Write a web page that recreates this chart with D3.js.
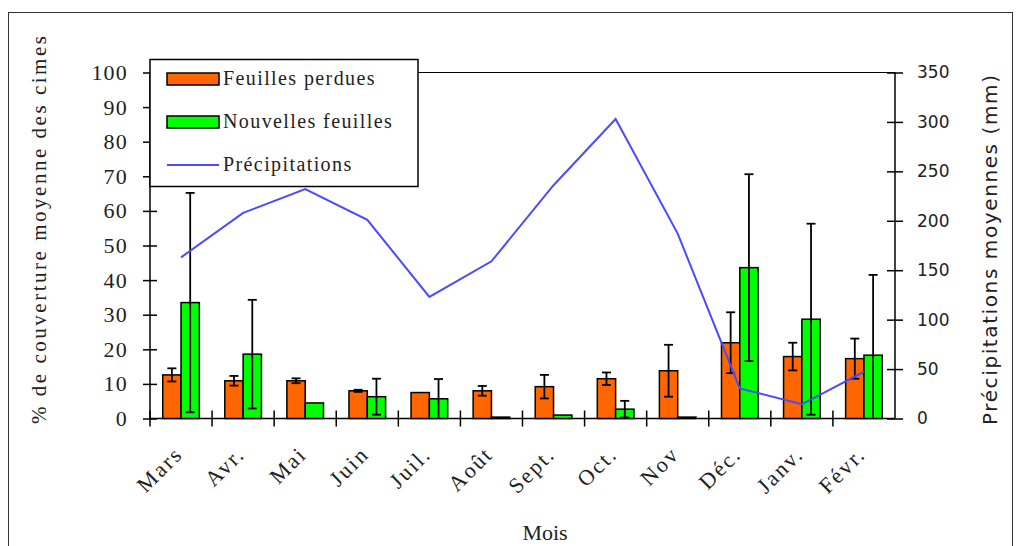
<!DOCTYPE html>
<html>
<head>
<meta charset="utf-8">
<script src="https://cdn.jsdelivr.net/npm/d3@7"></script>
<style>
  html, body { margin: 0; padding: 0; background: #fff; }
  svg { display: block; }
</style>
</head>
<body>
<svg id="chart" width="1021" height="546"></svg>
<script>
// Monthly leaf dynamics (% crown cover) and mean rainfall (mm)
const months = ["Mars", "Avr.", "Mai", "Juin", "Juil.", "Août", "Sept.", "Oct.", "Nov", "Déc.", "Janv.", "Févr."];
const leavesLost = [12.6, 10.9, 10.9, 8.0, 7.5, 8.0, 9.2, 11.5, 13.8, 21.9, 17.9, 17.3];
const leavesLostErr = [1.9, 1.4, 0.7, 0.3, 0, 1.4, 3.4, 1.8, 7.5, 8.8, 4.0, 5.8];
const newLeaves = [33.5, 18.6, 4.5, 6.3, 5.7, 0.4, 1.0, 2.7, 0.4, 43.6, 28.7, 18.3];
const newLeavesErr = [31.7, 15.7, 0, 5.2, 5.7, 0, 0, 2.4, 0, 27.0, 27.6, 23.2];
const rainfall = [163, 208, 232, 201, 123, 159, 236, 303, 187, 30.5, 14.4, 47.3];
const leftTicks = [0, 10, 20, 30, 40, 50, 60, 70, 80, 90, 100];
const rightTicks = [0, 50, 100, 150, 200, 250, 300, 350];

const svg = d3.select("#chart");
const plotL = 150, plotR = 895, plotT = 72.5, plotB = 418.5;
const serif = "'Liberation Serif', 'Times New Roman', serif";
const sans = "'DejaVu Sans', Verdana, sans-serif";

// outer frame
svg.append("rect").attr("x", 8.5).attr("y", 12.5).attr("width", 1004).attr("height", 600)
  .attr("fill", "none").attr("stroke", "#333").attr("stroke-width", 1);

const x = d3.scaleBand().domain(months).range([plotL, plotR]).padding(0);
const y = d3.scaleLinear().domain([0, 100]).range([plotB, plotT]);
const yR = d3.scaleLinear().domain([0, 350]).range([plotB, plotT]);
const bw = x.bandwidth() * 0.295;

// top border of plot area
svg.append("line").attr("x1", plotL).attr("x2", plotR).attr("y1", plotT).attr("y2", plotT)
  .attr("stroke", "#000").attr("stroke-width", 1.2);

// left axis
const gL = svg.append("g").attr("transform", `translate(${plotL},0)`)
  .call(d3.axisLeft(y).tickValues(leftTicks).tickSize(7).tickPadding(15));
gL.selectAll(".tick line").attr("x1", 7).attr("stroke-width", 1.5);
gL.select(".domain").attr("d", `M0,${plotT}V${plotB}`).attr("stroke-width", 1.5);
gL.selectAll(".tick text").attr("font-family", serif).attr("font-size", 22)
  .attr("letter-spacing", 1.2).attr("fill", "#222");

// right axis
const gR = svg.append("g").attr("transform", `translate(${plotR},0)`)
  .call(d3.axisRight(yR).tickValues(rightTicks).tickSize(8).tickPadding(14));
gR.selectAll(".tick line").attr("x1", -8).attr("stroke-width", 1.5);
gR.select(".domain").attr("d", `M0,${plotT}V${plotB}`).attr("stroke-width", 1.5);
gR.selectAll(".tick text").attr("font-family", sans).attr("font-size", 17).attr("fill", "#222");

// bottom axis with ticks between months
const gB = svg.append("g").attr("transform", `translate(0,${plotB})`);
gB.append("line").attr("x1", plotL).attr("x2", plotR).attr("stroke", "#000").attr("stroke-width", 1.5);
gB.selectAll("line.sep").data(months).join("line").attr("class", "sep")
  .attr("x1", d => x(d)).attr("x2", d => x(d)).attr("y1", -8).attr("y2", 8)
  .attr("stroke", "#000").attr("stroke-width", 1.5);
gB.selectAll("text").data(months).join("text")
  .attr("transform", d => `translate(${x(d) + x.bandwidth() / 2 + 3},${37}) rotate(-45)`)
  .attr("text-anchor", "end").attr("font-family", serif).attr("font-size", 22)
  .attr("letter-spacing", 2.2).attr("fill", "#222")
  .text(d => d);

// bars
const bars = svg.append("g");
function errorBar(g, cx, v, e) {
  if (e <= 0) return;
  const hi = v + e, lo = Math.max(0, v - e);
  g.append("line").attr("x1", cx).attr("x2", cx).attr("y1", y(hi)).attr("y2", y(lo))
    .attr("stroke", "#000").attr("stroke-width", 1.8);
  g.append("line").attr("x1", cx - 4.5).attr("x2", cx + 4.5).attr("y1", y(hi)).attr("y2", y(hi))
    .attr("stroke", "#000").attr("stroke-width", 1.8);
  if (lo > 0) g.append("line").attr("x1", cx - 4.5).attr("x2", cx + 4.5).attr("y1", y(lo)).attr("y2", y(lo))
    .attr("stroke", "#000").attr("stroke-width", 1.8);
}
months.forEach((m, i) => {
  const c = x(m) + x.bandwidth() / 2;
  bars.append("rect").attr("x", c - bw).attr("y", y(leavesLost[i])).attr("width", bw)
    .attr("height", y(0) - y(leavesLost[i])).attr("fill", "#ff6600").attr("stroke", "#000").attr("stroke-width", 1.5);
  bars.append("rect").attr("x", c).attr("y", y(newLeaves[i])).attr("width", bw)
    .attr("height", y(0) - y(newLeaves[i])).attr("fill", "#00ff00").attr("stroke", "#000").attr("stroke-width", 1.5);
  errorBar(bars, c - bw / 2, leavesLost[i], leavesLostErr[i]);
  errorBar(bars, c + bw / 2, newLeaves[i], newLeavesErr[i]);
});

// rainfall line
const line = d3.line().x((d, i) => x(months[i]) + x.bandwidth() / 2).y(d => yR(d));
svg.append("path").datum(rainfall).attr("d", line).attr("fill", "none")
  .attr("stroke", "#4a4aff").attr("stroke-width", 2);

// legend
const lg = svg.append("g");
lg.append("rect").attr("x", 150).attr("y", 59.5).attr("width", 268).attr("height", 127)
  .attr("fill", "#fff").attr("stroke", "#000").attr("stroke-width", 1.5);
const items = [
  { label: "Feuilles perdues", color: "#ff6600", type: "bar" },
  { label: "Nouvelles feuilles", color: "#00ff00", type: "bar" },
  { label: "Précipitations", color: "#4a4aff", type: "line" }
];
items.forEach((it, i) => {
  const cy = 79 + i * 43;
  if (it.type === "bar") {
    lg.append("rect").attr("x", 167).attr("y", cy - 6).attr("width", 52).attr("height", 12)
      .attr("fill", it.color).attr("stroke", "#000").attr("stroke-width", 1.5);
  } else {
    lg.append("line").attr("x1", 167).attr("x2", 219).attr("y1", cy).attr("y2", cy)
      .attr("stroke", it.color).attr("stroke-width", 2);
  }
  lg.append("text").attr("x", 223).attr("y", cy + 6).attr("font-family", serif).attr("font-size", 20)
    .attr("letter-spacing", 1.4).attr("fill", "#222").text(it.label);
});

// axis titles
svg.append("text").attr("transform", "translate(46,230) rotate(-90)").attr("text-anchor", "middle")
  .attr("font-family", serif).attr("font-size", 21).attr("fill", "#222")
  .attr("textLength", 388).attr("lengthAdjust", "spacing")
  .text("% de couverture moyenne des cimes");
svg.append("text").attr("transform", "translate(997,250) rotate(-90)").attr("text-anchor", "middle")
  .attr("font-family", sans).attr("font-size", 20).attr("fill", "#222")
  .attr("textLength", 350).attr("lengthAdjust", "spacing")
  .text("Précipitations moyennes (mm)");
svg.append("text").attr("x", 545).attr("y", 540).attr("text-anchor", "middle")
  .attr("font-family", serif).attr("font-size", 22).attr("fill", "#222").text("Mois");
</script>
</body>
</html>
